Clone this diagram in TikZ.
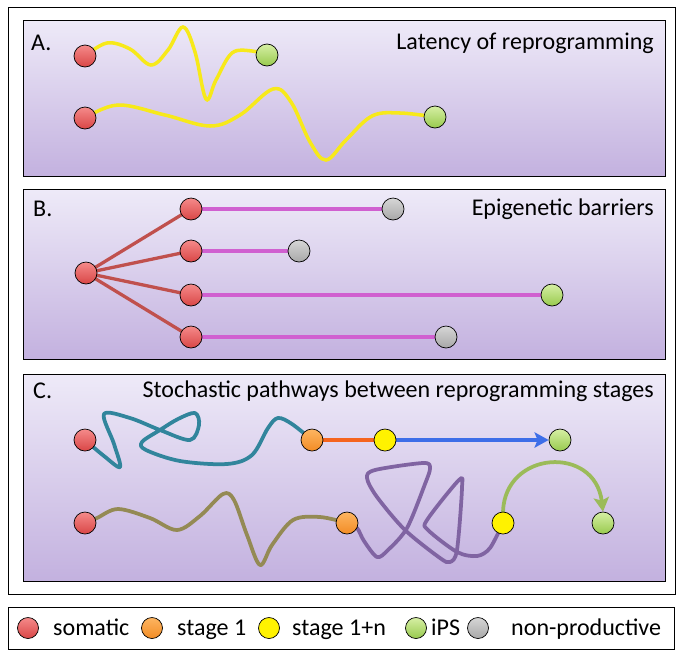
\documentclass[tikz,border=0pt]{standalone}
\usepackage{fontspec}
\setmainfont{Carlito}
\usepackage{tikz}
\usetikzlibrary{arrows.meta}

\pgfdeclarelayer{panels}
\pgfdeclarelayer{paths}
\pgfsetlayers{panels,paths,main}

\definecolor{panelTop}{HTML}{EEEAF8}
\definecolor{panelBot}{HTML}{C3B1DF}
\definecolor{somTop}{HTML}{F58A8A}
\definecolor{somBot}{HTML}{D94646}
\definecolor{stgTop}{HTML}{FDB561}
\definecolor{stgBot}{HTML}{F28C25}
\definecolor{ipsTop}{HTML}{D6EFA4}
\definecolor{ipsBot}{HTML}{98CA4E}
\definecolor{nonTop}{HTML}{D6D6D6}
\definecolor{nonBot}{HTML}{A8A8A8}
\definecolor{waveYel}{HTML}{F7E91A}
\definecolor{fanRed}{HTML}{C0504D}
\definecolor{barPink}{HTML}{D060D0}
\definecolor{pathTeal}{HTML}{31859C}
\definecolor{pathOlive}{HTML}{948A54}
\definecolor{pathPurple}{HTML}{8064A2}
\definecolor{pathOrange}{HTML}{F5641E}
\definecolor{pathBlue}{HTML}{3D6EE8}
\definecolor{pathGreen}{HTML}{9BBB59}

\tikzset{
  cell/.style={circle,draw=black,line width=0.6pt,inner sep=0pt,minimum size=0.66cm},
  cellSom/.style={cell,top color=somTop,bottom color=somBot},
  cellStg/.style={cell,top color=stgTop,bottom color=stgBot},
  cellLate/.style={cell,fill=yellow},
  cellIps/.style={cell,top color=ipsTop,bottom color=ipsBot},
  cellNon/.style={cell,top color=nonTop,bottom color=nonBot},
  legcell/.style={minimum size=0.63cm},
  panel/.style={draw=black,line width=0.8pt,top color=panelTop,bottom color=panelBot},
  title/.style={font=\fontsize{20.5}{24}\selectfont,inner sep=0pt},
  legtext/.style={font=\fontsize{20.5}{24}\selectfont,inner sep=0pt,anchor=base west},
  wave/.style={waveYel,line width=3pt},
  branch/.style={line width=2.8pt},
  curvy/.style={line width=3.2pt,line cap=round,line join=round}
}

\begin{document}
\begin{tikzpicture}[x=0.03cm,y=-0.03cm,>={Stealth[length=12pt,width=13pt,inset=2.5pt]}]
\useasboundingbox (0,0) rectangle (683,662);

\begin{pgfonlayer}{panels}
\fill[white] (0,0) rectangle (683,662);
\draw[line width=0.8pt] (8,7) rectangle (675,594);
\draw[panel] (23,20) rectangle (665,176);
\draw[panel] (23,189) rectangle (665,359);
\draw[panel] (23,374) rectangle (665,581);
\draw[line width=0.8pt] (8,607) rectangle (674,649);
\end{pgfonlayer}

% A. latency
\node[title,anchor=west] (labA) at (31,43) {A.};
\node[title,anchor=east] (headA) at (654,43) {Latency of reprogramming};
\node[cellSom] (somA1) at (85,56) {};
\node[cellIps] (ipsA1) at (267,55) {};
\node[cellSom] (somA2) at (85,118) {};
\node[cellIps] (ipsA2) at (435,117) {};

% B. barriers
\node[title,anchor=west] (labB) at (33,209) {B.};
\node[title,anchor=east] (headB) at (654,209) {Epigenetic barriers};
\node[cellSom] (somB) at (86,273) {};
\node[cellSom] (somB1) at (191,209) {};
\node[cellSom] (somB2) at (191,251) {};
\node[cellSom] (somB3) at (191,295) {};
\node[cellSom] (somB4) at (191,337) {};
\node[cellNon] (nonB1) at (393,209) {};
\node[cellNon] (nonB2) at (299,251) {};
\node[cellIps] (ipsB3) at (552,295) {};
\node[cellNon] (nonB4) at (446,337) {};

% C. stochastic
\node[title,anchor=west] (labC) at (33,391) {C.};
\node[title,anchor=east] (headC) at (654,391) {Stochastic pathways between reprogramming stages};
\node[cellSom] (somC1) at (85,440) {};
\node[cellStg] (stgC1) at (312,440) {};
\node[cellLate] (lateC1) at (385,440) {};
\node[cellIps] (ipsC1) at (560,440) {};
\node[cellSom] (somC2) at (85,523) {};
\node[cellStg] (stgC2) at (347,523) {};
\node[cellLate] (lateC2) at (503,523) {};
\node[cellIps] (ipsC2) at (603,523) {};

% legend
\node[cellSom,legcell] (legSom) at (28,628) {};
\node[legtext] (txtSom) at (53,635) {somatic};
\node[cellStg,legcell] (legStg) at (152,628) {};
\node[legtext] (txtStg) at (177,635) {stage 1};
\node[cellLate,legcell] (legLate) at (269,628) {};
\node[legtext] (txtLate) at (292,635) {stage 1+n};
\node[cellIps,legcell] (legIps) at (416,628) {};
\node[legtext] (txtIps) at (431,635) {iPS};
\node[cellNon,legcell] (legNon) at (478,628) {};
\node[legtext] (txtNon) at (511,635) {non-productive};

\begin{pgfonlayer}{paths}
\draw[wave] plot[smooth,tension=0.6] coordinates {(somA1.center) (107,43) (130,49) (151,65) (168,50) (183,27) (195,52) (206,99) (216,80) (232,53) (252,51) (ipsA1.center)};
\draw[wave] plot[smooth,tension=0.6] coordinates {(somA2.center) (118,105) (165,115) (210,126) (240,115) (273,89) (291,102) (310,142) (326,160) (346,140) (372,116) (400,113) (ipsA2.center)};

\foreach \k in {1,2,3,4}
  \draw[branch,fanRed] (somB.center) -- (somB\k.center);
\draw[branch,barPink] (somB1) -- (nonB1);
\draw[branch,barPink] (somB2) -- (nonB2);
\draw[branch,barPink] (somB3) -- (ipsB3);
\draw[branch,barPink] (somB4) -- (nonB4);

\draw[curvy,pathTeal] plot[smooth,tension=0.55] coordinates {(somC1.center) (104,456) (120,467) (114,444) (104,414) (130,418) (160,430) (190,440) (199,425) (195,413) (178,419) (160,430) (142,442) (146,450) (180,461) (227,464) (252,455) (268,428) (278,418) (292,424) (stgC1.center)};
\draw[curvy,pathOlive] plot[smooth,tension=0.55] coordinates {(somC2.center) (97,518) (118,509) (150,518) (177,530) (200,516) (223,494) (234,500) (247,535) (260,565) (272,545) (293,520) (320,517) (stgC2.center)};
\draw[curvy,pathPurple] plot[smooth,tension=0.5] coordinates {(stgC2.center) (357,528) (364,541) (377,557) (388,550) (407,528) (425,484) (430,468) (423,463) (375,470) (367,478) (377,497) (405,530) (440,558) (450,562) (457,550) (462,488) (459,480) (427,520) (428,530) (457,552) (477,556) (490,548) (lateC2.center)};
\draw[curvy,pathOrange] (stgC1) -- (lateC1);
\draw[curvy,pathBlue,->] (lateC1) -- (ipsC1);
\draw[curvy,pathGreen,->] (lateC2.north) .. controls (505,450) and (595,445) .. (ipsC2.north);
\end{pgfonlayer}
\end{tikzpicture}
\end{document}
